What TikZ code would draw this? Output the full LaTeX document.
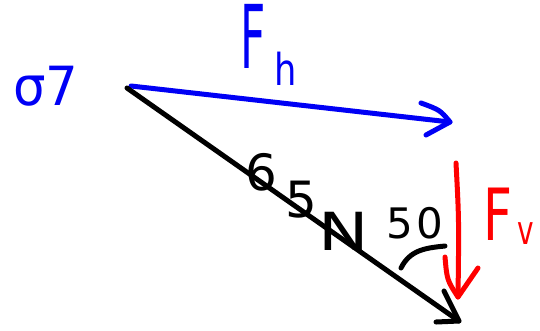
\documentclass[tikz,border=0pt]{standalone}
\usepackage{fontspec}
\setmainfont{DejaVu Sans}
\begin{document}
\begin{tikzpicture}[x=1pt,y=-1pt,
  pen/.style={line width=5pt,line cap=round,line join=round},
  bluepen/.style={pen,draw={rgb,255:red,0;green,0;blue,245}},
  redpen/.style={pen,draw={rgb,255:red,255;green,0;blue,0}},
  blackpen/.style={pen,draw=black},
  lbl/.style={inner sep=0pt,font=\fontsize{40}{40}\selectfont}]
\useasboundingbox (0,0) rectangle (540,330);
% anchor points
\coordinate (O) at (127,88);
\coordinate (Hs) at (131,86);
\coordinate (Htip) at (450,122);
\coordinate (Dtip) at (459,321);
\coordinate (Vtop) at (456,163);
\coordinate (Vtip) at (458,297);
\coordinate (Arcs) at (401,268);
\coordinate (Arce) at (445,246);
% labels
\node[lbl,text={rgb,255:red,0;green,0;blue,245},font=\fontsize{54}{54}\selectfont,xscale=0.95,anchor=base west] (q) at (13,105) {σ7};
\node[lbl,text={rgb,255:red,0;green,0;blue,245},font=\fontsize{88}{88}\selectfont,xscale=0.5,anchor=base west] (fh) at (240,68) {F\hspace{18pt}\raisebox{-17pt}{\fontsize{44}{44}\selectfont\scalebox{1.6}[1]{h}}};
\node[lbl,font=\fontsize{50}{50}\selectfont,anchor=base west] (force) at (245,190) {6\hspace{8pt}\raisebox{-27pt}{5}\hspace{2pt}\raisebox{-60pt}{\scalebox{1.35}[1.05]{N}}};
\node[lbl,font=\fontsize{42}{42}\selectfont,anchor=base west] (ang) at (386,238) {5\hspace{4pt}0};
\node[lbl,text={rgb,255:red,255;green,0;blue,0},font=\fontsize{72}{72}\selectfont,xscale=0.7,anchor=base west] (fv) at (483,240) {F\hspace{8pt}\raisebox{-4pt}{\fontsize{40}{40}\selectfont v}};
% horizontal component (blue)
\draw[bluepen] (Hs) -- (Htip);
\draw[bluepen] (421,103) .. controls (440,110) .. (Htip) -- (426,135);
% resultant (black)
\draw[blackpen] (O) -- (Dtip);
\draw[blackpen] (444,291) -- (Dtip) -- (436,322);
% angle arc
\draw[blackpen] (Arcs) .. controls (410,250) and (425,248) .. (Arce);
% vertical component (red)
\draw[redpen] (Vtop) .. controls (459,220) .. (Vtip);
\draw[redpen] (445,257) .. controls (447,280) .. (Vtip) -- (478,268);
\end{tikzpicture}
\end{document}
